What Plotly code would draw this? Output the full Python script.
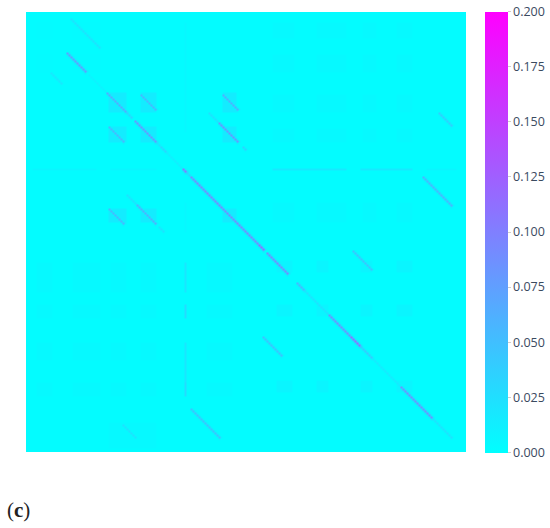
import numpy as np
import plotly.graph_objects as go

matrix_size = 220
background_value = 0.002

# diagonal streaks: first matrix row, first matrix column, cells, value
streak_row = [3, 20, 30, 31, 40, 50, 54, 65, 67, 70, 78, 80, 82, 106, 110, 116, 120, 135, 139, 151, 162, 167, 173, 187, 203,
              41, 41, 57, 55, 50, 67, 98, 96, 91, 107, 119, 162, 198, 206, 50, 82]
streak_col = [22, 20, 12, 31, 40, 50, 54, 65, 67, 70, 78, 80, 82, 106, 110, 116, 120, 135, 139, 151, 162, 167, 173, 187, 203,
              57, 98, 41, 96, 91, 108, 41, 55, 50, 66, 163, 118, 82, 48, 206, 198]
streak_len = [15, 10, 6, 9, 10, 3, 11, 2, 3, 8, 2, 2, 24, 4, 6, 3, 11, 4, 12, 11, 5, 6, 14, 16, 10,
              8, 8, 8, 10, 5, 2, 8, 10, 5, 3, 10, 10, 15, 7, 7, 15]
streak_val = [0.025, 0.08, 0.02, 0.012, 0.07, 0.035, 0.085, 0.025, 0.035, 0.015, 0.11, 0.035, 0.095, 0.095, 0.095, 0.12, 0.095, 0.06, 0.025, 0.09, 0.12, 0.045, 0.018, 0.09, 0.025,
              0.06, 0.065, 0.06, 0.085, 0.025, 0.035, 0.06, 0.065, 0.025, 0.025, 0.05, 0.05, 0.05, 0.025, 0.04, 0.06]
streak_shoulder = 0.22

# faint rectangular groups: row bands x column bands, one value per group
group_rows = [
    [(40, 50), (57, 65), (98, 105)],
    [(124, 130), (146, 152), (184, 190)],
    [(125, 140), (146, 153), (165, 174), (185, 192)],
    [(5, 13), (21, 30), (41, 50), (58, 65), (95, 105)],
    [(5, 13), (21, 30)],
    [(205, 218)],
]
group_cols = [
    [(41, 50), (57, 65), (98, 105)],
    [(125, 133), (145, 151), (167, 173), (185, 193)],
    [(5, 13), (23, 37), (42, 50), (57, 65), (90, 103)],
    [(123, 134), (145, 160), (168, 175), (185, 193)],
    [(5, 13), (23, 37)],
    [(41, 65)],
]
group_val = [0.015, 0.008, 0.005, 0.005, 0.0035, 0.0045]

# stripes
vstripe_rows = [(125, 140), (146, 153), (165, 185), (185, 192), (5, 60), (95, 110)]
vstripe_val = [0.02, 0.028, 0.02, 0.028, 0.006, 0.006]
vstripe_col = 79
hstripe_cols = [(3, 35), (42, 65), (123, 160), (167, 193), (200, 215)]
hstripe_val = [0.008, 0.007, 0.018, 0.018, 0.008]
hstripe_row = 78

colorbar_ticks = [0.0, 0.025, 0.05, 0.075, 0.1, 0.125, 0.15, 0.175, 0.2]

z = np.full((matrix_size, matrix_size), background_value)
for rows, cols, v in zip(group_rows, group_cols, group_val):
    for r0, r1 in rows:
        for c0, c1 in cols:
            z[r0:r1, c0:c1] = np.maximum(z[r0:r1, c0:c1], v)
for (r0, r1), v in zip(vstripe_rows, vstripe_val):
    z[r0:r1, vstripe_col] = np.maximum(z[r0:r1, vstripe_col], v)
for (c0, c1), v in zip(hstripe_cols, hstripe_val):
    z[hstripe_row, c0:c1] = np.maximum(z[hstripe_row, c0:c1], v)
for r, c, n, v in zip(streak_row, streak_col, streak_len, streak_val):
    for i in range(n):
        z[r + i, c + i] = max(z[r + i, c + i], v)
        for dr, dc in ((0, 1), (1, 0)):
            rr, cc = r + i + dr, c + i + dc
            if rr < matrix_size and cc < matrix_size:
                z[rr, cc] = max(z[rr, cc], v * streak_shoulder)

fig = go.Figure(go.Heatmap(
    z=z, zmin=0, zmax=0.2, zsmooth="best",
    colorscale=[[0, "rgb(0,255,255)"], [1, "rgb(255,0,255)"]],
    colorbar=dict(
        thickness=23, thicknessmode="pixels", len=441, lenmode="pixels",
        x=1.043, xanchor="left", xpad=0, y=0.5, yanchor="middle", ypad=0,
        outlinewidth=0, tickvals=colorbar_ticks, tickformat=".3f",
        ticks="outside", ticklen=3, tickcolor="#cccccc",
        tickfont=dict(family="Open Sans", size=12.5, color="#3a4a5f"),
    ),
))
fig.update_layout(
    width=550, height=528, autosize=False,
    margin=dict(l=26, r=84, t=12, b=76, autoexpand=False),
    paper_bgcolor="white", plot_bgcolor="white",
    xaxis=dict(visible=False, constrain="domain"),
    yaxis=dict(visible=False, autorange="reversed"),
    annotations=[dict(
        text="(<b>c</b>)", x=0, y=0, xref="paper", yref="paper",
        xshift=-21, yshift=-58, xanchor="left", yanchor="middle", showarrow=False,
        font=dict(family="Liberation Serif", size=21, color="#222222"),
    )],
)
fig.write_html("out.html", config={"displayModeBar": False},
               post_script="document.body.style.margin='0';document.documentElement.style.overflow='hidden';")
